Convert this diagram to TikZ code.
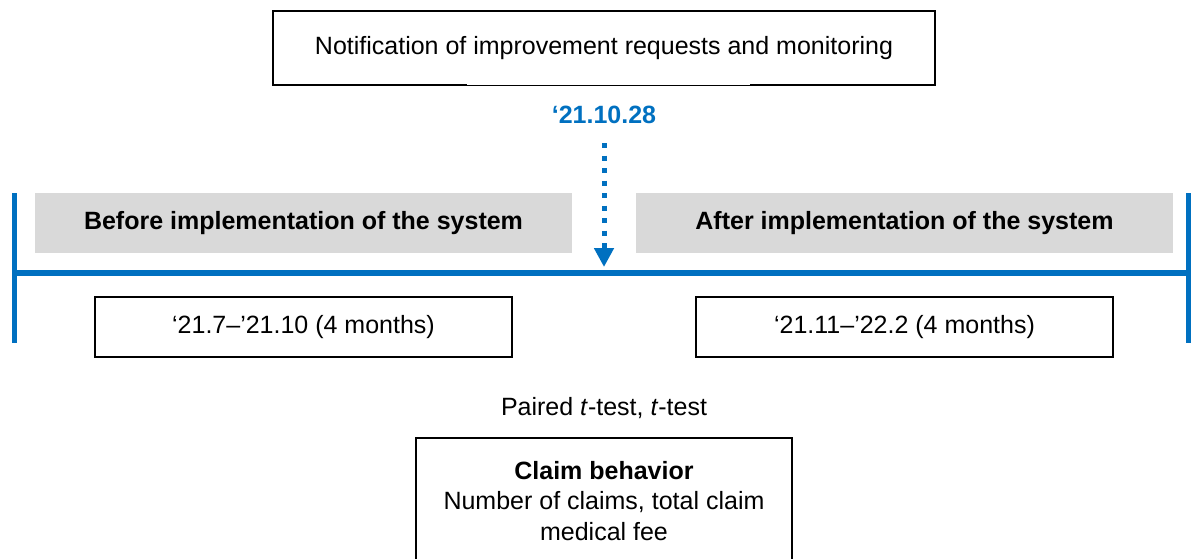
\documentclass[tikz,border=0pt]{standalone}
\usepackage{fontspec}
\setmainfont{Liberation Sans}
\usetikzlibrary{arrows.meta}
\definecolor{mblue}{HTML}{0070C0}
\definecolor{mgray}{HTML}{D9D9D9}
\tikzset{
  txt/.style={font=\fontsize{25}{27}\selectfont, inner sep=0pt},
  framebox/.style={draw=black, line width=2pt, txt},
  phasebox/.style={fill=mgray, txt, font=\fontsize{25}{27}\selectfont\bfseries},
  bluebar/.style={draw=mblue, line width=6pt},
}
\begin{document}
\begin{tikzpicture}[x=1pt,y=-1pt]
\useasboundingbox (0,0) rectangle (1192,558);
% top notification box
\node[framebox, minimum width=662pt, minimum height=74pt] (notif) at (604,48) {Notification of improvement requests and monitoring};
\draw[white, line width=2.4pt] (467,85) -- (750,85);
\draw[black, line width=0.8pt] (467,85) -- (750,85);
% date
\node[txt, text=mblue, font=\fontsize{25}{27}\selectfont\bfseries] (date) at (604,115) {‘21.10.28};
% timeline
\coordinate (tlL) at (12,272.5);
\coordinate (tlR) at (1191,272.5);
\draw[bluebar] (tlL) -- (tlR);
\coordinate (vL1) at (14.5,193);
\coordinate (vL2) at (14.5,343);
\coordinate (vR1) at (1188.5,193);
\coordinate (vR2) at (1188.5,343);
\draw[draw=mblue, line width=5.5pt] (vL1) -- (vL2);
\draw[draw=mblue, line width=5.5pt] (vR1) -- (vR2);
% phase boxes
\node[phasebox, minimum width=537pt, minimum height=60pt] (before) at (303.5,223) {Before implementation of the system};
\node[phasebox, minimum width=537pt, minimum height=60pt] (after) at (904.5,223) {After implementation of the system};
% dotted arrow
\coordinate (tip) at (604,267);
\draw[mblue, line width=5pt, dash pattern=on 5pt off 7.5pt, -{Triangle[length=19pt,width=19pt]}, shorten <=19pt] (date.south) -- (tip);
% period boxes
\node[framebox, minimum width=417pt, minimum height=60pt] (p1) at (303.5,327) {‘21.7–’21.10 (4 months)};
\node[framebox, minimum width=417pt, minimum height=60pt] (p2) at (904.5,327) {‘21.11–’22.2 (4 months)};
% test label
\node[txt] (test) at (604,408) {Paired \textit{t}-test, \textit{t}-test};
% claim box
\node[draw=black, line width=1.5pt, txt, font=\fontsize{25}{30.5}\selectfont, minimum width=376pt, minimum height=126pt, align=center, anchor=north] (claim) at (604,437) {\textbf{Claim behavior}\\Number of claims, total claim\\medical fee};
\end{tikzpicture}
\end{document}
